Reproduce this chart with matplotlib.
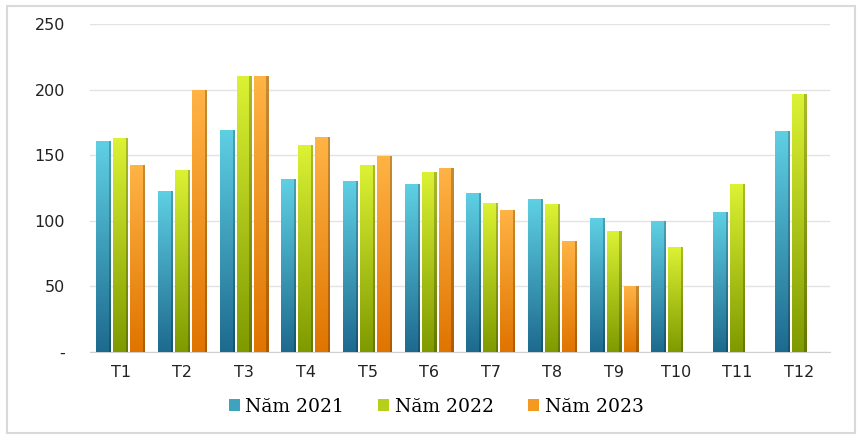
import numpy as np
import matplotlib
matplotlib.use("Agg")
import matplotlib.pyplot as plt
from matplotlib.colors import LinearSegmentedColormap
from matplotlib.patches import Rectangle

categories = ["T1", "T2", "T3", "T4", "T5", "T6", "T7", "T8", "T9", "T10", "T11", "T12"]
y2021 = [160.5, 123, 169.5, 131.5, 130, 128, 121.5, 116.5, 102.5, 99.5, 107, 168.5]
y2022 = [163, 139, 210.5, 157.5, 142.5, 137.5, 113.5, 112.5, 92.5, 80, 128, 196.5]
y2023 = [142.5, 200, 210, 163.5, 149.5, 140.5, 108.5, 84.5, 50.5, np.nan, np.nan, np.nan]
series_names = ["Năm 2021", "Năm 2022", "Năm 2023"]
yticks = [0, 50, 100, 150, 200, 250]
ytick_labels = ["-", "50", "100", "150", "200", "250"]

grads = [("#1d6a8e", "#5fd0e4"), ("#7f9a00", "#dcf234"), ("#e07400", "#ffb445")]
mid_colors = ["#3fa3c0", "#b5cf1a", "#f59a20"]

fig = plt.figure(figsize=(8.6, 4.4), dpi=100)
fig.patches.append(Rectangle((7/860, 1-433/440), 848/860, 427/440, transform=fig.transFigure,
                             fill=False, edgecolor="#d9d9d9", linewidth=1.5))
ax = fig.add_axes([90/860, 1-352/440, 740/860, 328/440])

x = np.arange(len(categories))
width = 0.24
offsets = [-0.275, 0, 0.275]
data = [y2021, y2022, y2023]
grad = np.linspace(0, 1, 256).reshape(-1, 1)
for s, (vals, off) in enumerate(zip(data, offsets)):
    cmap = LinearSegmentedColormap.from_list("g%d" % s, list(grads[s]))
    bars = ax.bar(x + off, vals, width, color=mid_colors[s], label=series_names[s], zorder=2,
                  edgecolor="none")
    for b in bars:
        h = b.get_height()
        if not np.isfinite(h) or h <= 0:
            continue
        bx, bw = b.get_x(), b.get_width()
        im = ax.imshow(grad, cmap=cmap, origin="lower", aspect="auto",
                       extent=(bx, bx + bw, 0, h), zorder=3)
        im.set_clip_path(b)
        ax.add_patch(Rectangle((bx + bw*0.86, 0), bw*0.14, h, color="black", alpha=0.22,
                               zorder=4, linewidth=0))

ax.set_xlim(-0.5, len(categories) - 0.5)
ax.set_ylim(0, 250)
ax.set_yticks(yticks)
ax.set_yticklabels(ytick_labels)
ax.set_xticks(x)
ax.set_xticklabels(categories)
ax.grid(axis="y", color="#e3e3e3", linewidth=1, zorder=0)
ax.set_axisbelow(True)
for sp in ["top", "right", "left"]:
    ax.spines[sp].set_visible(False)
ax.spines["bottom"].set_color("#d0d0d0")
ax.tick_params(axis="both", length=0, labelsize=11.5, colors="#222222")
ax.tick_params(axis="y", pad=18)
ax.tick_params(axis="x", pad=9)

h, l = ax.get_legend_handles_labels()
leg = fig.legend(h, l, loc="center", bbox_to_anchor=(436/860, 1-407/440), ncol=3, frameon=False,
                 prop={"family": "DejaVu Serif", "size": 13.5}, handlelength=0.6, handleheight=0.6,
                 columnspacing=1.8, handletextpad=0.3)
plt.savefig("out.png", dpi=100)
